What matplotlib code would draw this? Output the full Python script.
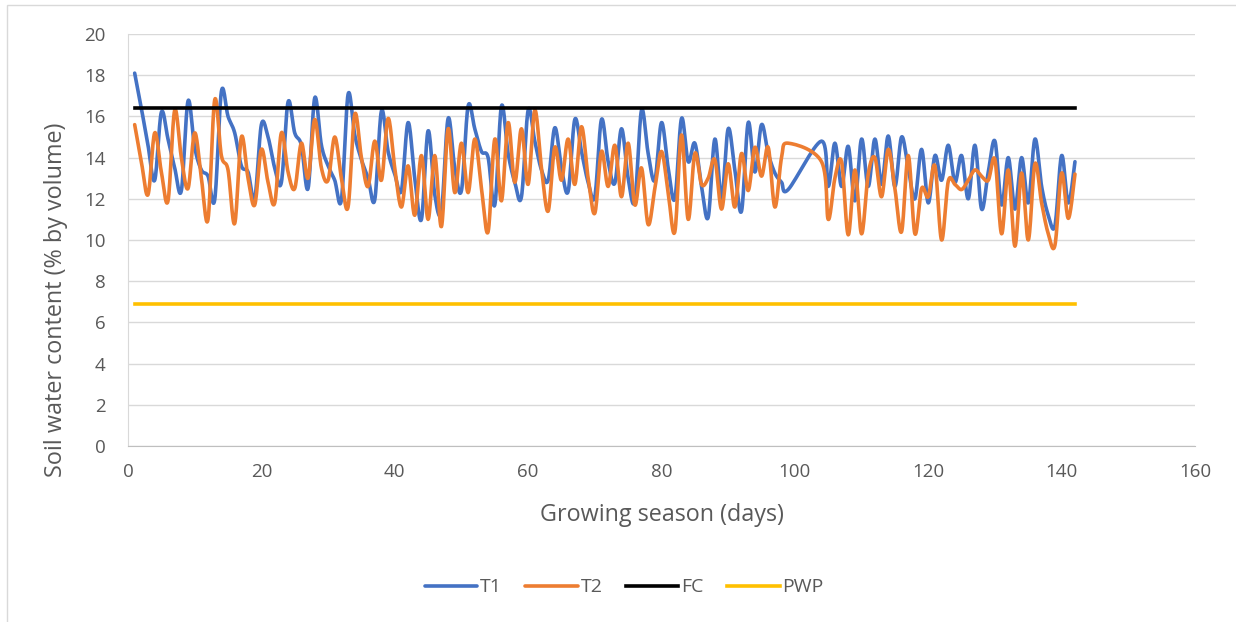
import matplotlib
matplotlib.use("Agg")
import matplotlib.pyplot as plt
import matplotlib.patches as patches
import numpy as np

# daily soil water content (% by volume); days 100-103 were not recorded
days = np.arange(1, 143)
nan = np.nan
t1 = [18.1, 16.4, 14.6, 12.9, 16.2, 14.9, 13.5, 12.4, 16.75, 14.5,
      13.4, 13.1, 11.95, 17.2, 16.0, 15.2, 13.6, 13.3, 12.0, 15.6,
      15.0, 13.5, 12.8, 16.7, 15.2, 14.6, 12.5, 16.9, 14.6, 13.6,
      12.9, 11.95, 17.07, 15.1, 13.9, 13.0, 11.95, 16.26, 14.3, 13.2,
      12.4, 15.7, 13.0, 11.0, 15.3, 12.2, 11.4, 15.9, 13.5, 12.4,
      16.5, 15.4, 14.3, 14.0, 11.7, 16.5, 14.2, 12.8, 12.1, 16.3,
      14.8, 13.4, 12.9, 15.45, 13.5, 12.36, 15.85, 14.3, 12.8, 12.1,
      15.85, 13.8, 12.76, 15.4, 13.0, 11.9, 16.3, 14.2, 12.9, 15.7,
      13.5, 12.0, 15.9, 13.8, 14.7, 12.6, 11.1, 14.9, 12.0, 15.4,
      13.4, 11.4, 15.7, 13.3, 15.6, 14.2, 13.25, 12.8, 12.45, nan,
      nan, nan, nan, 14.8, 12.6, 14.7, 12.6, 14.55, 11.9, 14.9,
      12.6, 14.9, 12.7, 15.05, 12.6, 15.0, 13.5, 12.0, 14.4, 11.8,
      14.1, 12.9, 14.6, 12.8, 14.1, 12.0, 14.6, 11.5, 13.3, 14.8,
      11.7, 14.0, 11.5, 14.0, 11.8, 14.9, 12.6, 11.2, 10.7, 14.1,
      11.8, 13.8]
t2 = [15.6, 13.8, 12.2, 15.2, 13.3, 11.9, 16.3, 14.0, 12.5, 15.2,
      13.0, 11.0, 16.8, 14.1, 13.4, 10.8, 15.0, 13.0, 11.7, 14.4,
      12.8, 11.8, 15.2, 13.3, 12.5, 14.7, 13.0, 15.85, 13.5, 12.9,
      15.0, 13.0, 11.6, 16.1, 14.0, 12.6, 14.8, 12.9, 15.9, 13.5,
      11.6, 13.6, 11.2, 14.1, 11.0, 14.1, 10.65, 15.4, 12.3, 14.7,
      12.3, 14.9, 12.5, 10.4, 14.9, 11.9, 15.7, 12.8, 15.4, 12.7,
      16.3, 13.5, 11.4, 14.5, 12.9, 14.9, 12.7, 15.5, 13.0, 11.3,
      14.3, 12.6, 14.6, 12.1, 14.7, 11.7, 13.5, 10.75, 12.5, 14.3,
      12.3, 10.4, 15.1, 11.0, 14.2, 12.7, 13.0, 13.9, 11.5, 13.7,
      11.6, 14.2, 12.4, 14.5, 13.1, 14.5, 11.6, 14.0, 14.7, nan,
      nan, nan, nan, 13.8, 11.0, 13.0, 13.8, 10.25, 13.4, 10.3,
      13.2, 14.0, 12.1, 14.4, 12.5, 10.4, 14.1, 10.3, 12.5, 12.1,
      13.6, 10.0, 12.85, 12.7, 12.45, 12.9, 13.4, 13.1, 12.9, 13.9,
      10.3, 13.4, 9.7, 13.25, 10.0, 13.7, 11.8, 10.3, 9.75, 13.25,
      11.05, 13.2]
fc = 16.4
pwp = 6.9

colors = {"T1": "#4472C4", "T2": "#ED7D31", "FC": "#000000", "PWP": "#FFC000"}
grey = "#595959"


def smooth(x, y, n=16):
    # Excel-style smoothed line: cubic Bezier through the points
    x = np.asarray(x, float)
    y = np.asarray(y, float)
    ok = ~np.isnan(y)
    p = np.column_stack([x[ok], y[ok]])
    p = np.vstack([p[0], p, p[-1]])
    t = np.linspace(0, 1, n)[:, None]
    segs = []
    for i in range(1, len(p) - 2):
        p0, p1, p2, p3 = p[i - 1], p[i], p[i + 1], p[i + 2]
        c1 = p1 + (p2 - p0) / 6
        c2 = p2 - (p3 - p1) / 6
        segs.append((1 - t) ** 3 * p1 + 3 * (1 - t) ** 2 * t * c1
                    + 3 * (1 - t) * t ** 2 * c2 + t ** 3 * p2)
    s = np.vstack(segs)
    return s[:, 0], s[:, 1]


plt.rcParams["font.family"] = ["Open Sans", "DejaVu Sans"]

fig = plt.figure(figsize=(12.36, 6.22), dpi=100)
ax = fig.add_axes([128 / 1236, 1 - 446 / 622, (1195 - 128) / 1236, (446 - 34) / 622])

# chart area border
fig.patches.append(patches.Rectangle((7 / 1236, -0.05), 1.1, 1.05 - 5 / 622,
                                     transform=fig.transFigure, fill=False,
                                     edgecolor="#D9D9D9", linewidth=1))

lw = 2.6
sx, sy = smooth(days, t1)
ax.plot(sx, sy, color=colors["T1"], lw=lw, label="T1", solid_capstyle="round")
sx, sy = smooth(days, t2)
ax.plot(sx, sy, color=colors["T2"], lw=lw, label="T2", solid_capstyle="round")
ax.plot([days[0], days[-1]], [fc, fc], color=colors["FC"], lw=lw, label="FC")
ax.plot([days[0], days[-1]], [pwp, pwp], color=colors["PWP"], lw=lw, label="PWP")

ax.set_xlim(0, 160)
ax.set_ylim(0, 20)
ax.set_xticks(np.arange(0, 161, 20))
ax.set_yticks(np.arange(0, 21, 2))
ax.grid(axis="y", color="#D9D9D9", lw=1)
ax.set_axisbelow(True)
for s in ["top", "right"]:
    ax.spines[s].set_visible(False)
ax.spines["left"].set_color("#D9D9D9")
ax.spines["bottom"].set_color("#BFBFBF")
ax.tick_params(length=0, labelsize=13.5, labelcolor=grey)
ax.tick_params(axis="x", pad=12)
ax.tick_params(axis="y", pad=16)
ax.set_xlabel("Growing season (days)", fontsize=16.8, color=grey, labelpad=16)
ax.set_ylabel("Soil water content (% by volume)", fontsize=16.8, color=grey)
ax.yaxis.set_label_coords(-0.056, 0.354)

fig.legend(loc="lower center", ncol=4, frameon=False, fontsize=14,
           labelcolor=grey, handlelength=2.7, columnspacing=1.2,
           handletextpad=0.15, bbox_to_anchor=(0.505, 0.013))

plt.savefig("out.png", dpi=100)
plt.close()
